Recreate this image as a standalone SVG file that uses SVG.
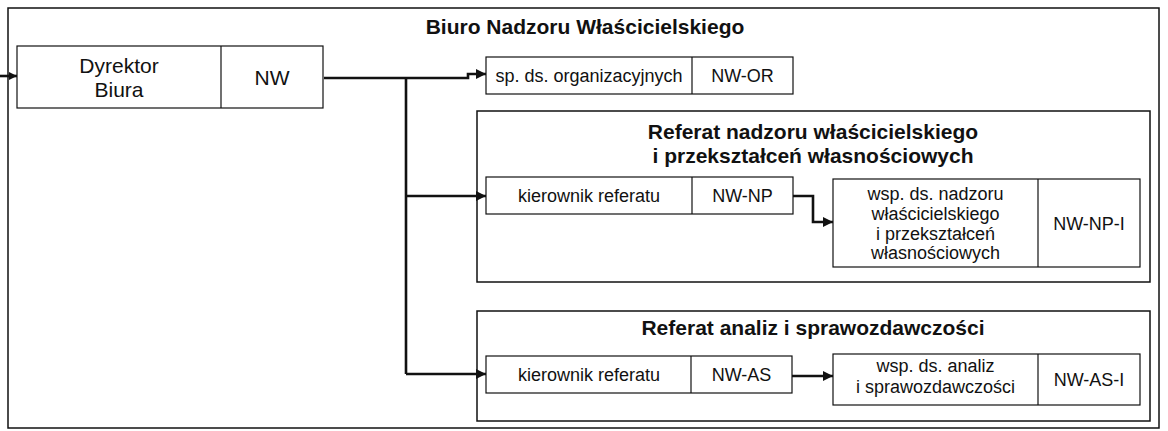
<svg xmlns="http://www.w3.org/2000/svg" width="1168" height="431" viewBox="0 0 1168 431">
<style>
.frame{fill:none;stroke:#111;stroke-width:1.5}
.box{fill:#fff;stroke:#111;stroke-width:1.2}
.div{stroke:#111;stroke-width:1.2}
.t{font-family:"Liberation Sans",Arial,sans-serif;font-size:18px;fill:#111;text-anchor:middle}
.big{font-size:21px}
.title{font-family:"Liberation Sans",Arial,sans-serif;font-size:21px;font-weight:bold;fill:#111;text-anchor:middle}
.conn{fill:none;stroke:#111;stroke-width:2.6}
</style>
<defs>
<marker id="arr" markerWidth="12" markerHeight="12" refX="10" refY="5" orient="auto" markerUnits="userSpaceOnUse">
<path d="M0,0 L10,5 L0,10 Z" fill="#111"/>
</marker>
<marker id="arrs" markerWidth="10" markerHeight="10" refX="8" refY="4" orient="auto" markerUnits="userSpaceOnUse">
<path d="M0,0 L8,4 L0,8 Z" fill="#111"/>
</marker>
</defs>
<g id="frame-biuro">
<rect class="frame" x="8" y="8" width="1151" height="420"/>
<text class="title" x="585" y="34">Biuro Nadzoru Właścicielskiego</text>
</g>
<g id="frame-referat-np">
<rect class="frame" x="477" y="111" width="673" height="171"/>
<text class="title" x="813" y="139">Referat nadzoru właścicielskiego</text>
<text class="title" x="813" y="163">i przekształceń własnościowych</text>
</g>
<g id="frame-referat-as">
<rect class="frame" x="477" y="311" width="673" height="110"/>
<text class="title" x="813" y="335">Referat analiz i sprawozdawczości</text>
</g>
<g id="connectors">
<path class="conn" d="M0,76 H17" stroke-width="1.3" marker-end="url(#arrs)"/>
<path class="conn" d="M324,78 H468 V74 H486" marker-end="url(#arr)"/>
<path class="conn" d="M406,78 V374"/>
<path class="conn" d="M406,196 H486" marker-end="url(#arr)"/>
<path class="conn" d="M406,374 H486" marker-end="url(#arr)"/>
<path class="conn" d="M793,196 H813 V222 H833" marker-end="url(#arr)"/>
<path class="conn" d="M792,376 H833" marker-end="url(#arr)"/>
</g>
<g id="node-dyrektor">
<rect class="box" x="17" y="46" width="306" height="62"/>
<line class="div" x1="221" y1="46" x2="221" y2="108"/>
<text class="t big" x="119" y="73">Dyrektor</text>
<text class="t big" x="119" y="97">Biura</text>
<text class="t big" x="272" y="85">NW</text>
</g>
<g id="node-nw-or">
<rect class="box" x="486" y="57" width="307" height="37"/>
<line class="div" x1="692" y1="57" x2="692" y2="94"/>
<text class="t" x="589" y="82">sp. ds. organizacyjnych</text>
<text class="t" x="742.5" y="82">NW-OR</text>
</g>
<g id="node-nw-np">
<rect class="box" x="486" y="177" width="307" height="37"/>
<line class="div" x1="692" y1="177" x2="692" y2="214"/>
<text class="t" x="589" y="202">kierownik referatu</text>
<text class="t" x="742.5" y="202">NW-NP</text>
</g>
<g id="node-nw-np-i">
<rect class="box" x="833" y="179" width="307" height="88"/>
<line class="div" x1="1038" y1="179" x2="1038" y2="267"/>
<text class="t" x="935.5" y="200">wsp. ds. nadzoru</text>
<text class="t" x="935.5" y="220">właścicielskiego</text>
<text class="t" x="935.5" y="239.5">i przekształceń</text>
<text class="t" x="935.5" y="259">własnościowych</text>
<text class="t" x="1089" y="230">NW-NP-I</text>
</g>
<g id="node-nw-as">
<rect class="box" x="486" y="356" width="306" height="37"/>
<line class="div" x1="691" y1="356" x2="691" y2="393"/>
<text class="t" x="589" y="381">kierownik referatu</text>
<text class="t" x="741.5" y="381">NW-AS</text>
</g>
<g id="node-nw-as-i">
<rect class="box" x="833" y="354" width="307" height="51"/>
<line class="div" x1="1038" y1="354" x2="1038" y2="405"/>
<text class="t" x="935.5" y="372">wsp. ds. analiz</text>
<text class="t" x="935.5" y="393">i sprawozdawczości</text>
<text class="t" x="1089" y="386">NW-AS-I</text>
</g>
</svg>
